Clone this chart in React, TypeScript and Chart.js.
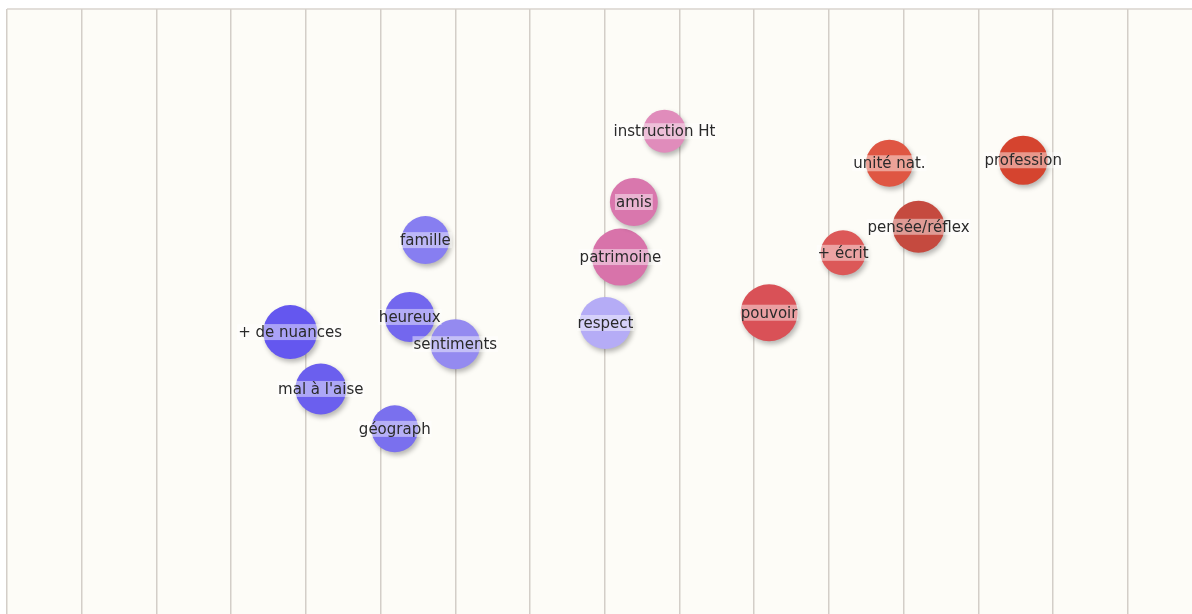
import React, { useEffect, useRef } from "react";
import { Chart, registerables } from "chart.js";

Chart.register(...registerables);

const labels = [
  "+ de nuances", "mal à l'aise", "géograph", "heureux", "sentiments", "famille",
  "respect", "patrimoine", "amis", "instruction Ht",
  "pouvoir", "+ écrit", "unité nat.", "pensée/réflex", "profession",
];
const xValues = [3.79, 4.2, 5.19, 5.39, 6.0, 5.6, 8.01, 8.21, 8.39, 8.8, 10.2, 11.19, 11.81, 12.2, 13.6];
const yValues = [46.6, 37.2, 30.6, 49.1, 44.6, 61.8, 48.1, 59.0, 68.1, 79.8, 49.8, 59.7, 74.5, 64.0, 75.0];
const radii = [27, 25.5, 23.5, 25, 25, 24, 26, 28.5, 24, 21.5, 28.5, 22.5, 23.5, 26, 24.5];
const colors = [
  "#6457ef", "#6b5fee", "#7a70ee", "#7367ee", "#948af0", "#877ef1",
  "#b5acf6", "#d873aa", "#d977ad", "#e08cbb",
  "#d95157", "#dc5858", "#df5643", "#c54a3f", "#d5442f",
];

const X_MIN = 0;
const X_MAX = 15.86;
const Y_MIN = 0;
const Y_MAX = 100;

const bgPlugin = {
  id: "bgPlugin",
  beforeDraw(chart: any) {
    const { ctx, chartArea } = chart;
    ctx.save();
    ctx.fillStyle = "#fdfcf7";
    ctx.fillRect(chartArea.left, chartArea.top, chartArea.right - chartArea.left, chartArea.bottom - chartArea.top);
    ctx.strokeStyle = "#e2ded9";
    ctx.lineWidth = 2;
    ctx.beginPath();
    ctx.moveTo(chartArea.left, chartArea.top);
    ctx.lineTo(chartArea.right, chartArea.top);
    ctx.stroke();
    ctx.restore();
  },
  beforeDatasetsDraw(chart: any) {
    const ctx = chart.ctx;
    ctx.save();
    ctx.shadowColor = "rgba(0,0,0,0.28)";
    ctx.shadowBlur = 5;
    ctx.shadowOffsetX = 2;
    ctx.shadowOffsetY = 3;
  },
  afterDatasetsDraw(chart: any) {
    const ctx = chart.ctx;
    ctx.restore();
    ctx.save();
    ctx.font = "15px 'DejaVu Sans'";
    ctx.textAlign = "center";
    ctx.textBaseline = "middle";
    const meta = chart.getDatasetMeta(0);
    meta.data.forEach((pt: any, i: number) => {
      const text = labels[i];
      const w = ctx.measureText(text).width;
      ctx.fillStyle = "rgba(255,255,255,0.45)";
      ctx.fillRect(pt.x - w / 2 - 1, pt.y - 8, w + 2, 16);
    });
    meta.data.forEach((pt: any, i: number) => {
      ctx.fillStyle = "#2a2a2a";
      ctx.fillText(labels[i], pt.x, pt.y + 1);
    });
    ctx.restore();
  },
};

export default function App() {
  const ref = useRef<HTMLCanvasElement | null>(null);
  useEffect(() => {
    if (!ref.current) return;
    const chart = new Chart(ref.current, {
      type: "bubble",
      data: {
        labels,
        datasets: [
          {
            data: xValues.map((x, i) => ({ x, y: yValues[i], r: radii[i] })),
            backgroundColor: colors,
            borderWidth: 0,
            hoverRadius: 0,
            clip: false,
          },
        ],
      },
      options: {
        animation: false,
        responsive: false,
        maintainAspectRatio: false,
        layout: { autoPadding: false, padding: { left: 7, top: 9, right: 0, bottom: 0 } },
        plugins: { legend: { display: false }, tooltip: { enabled: false } },
        scales: {
          x: {
            type: "linear",
            min: X_MIN,
            max: X_MAX,
            ticks: { display: false, stepSize: 1 },
            afterBuildTicks(scale: any) {
              scale.ticks = scale.ticks.filter((t: any) => Number.isInteger(t.value));
            },
            grid: { color: "#d3cec8", lineWidth: 1.5, drawTicks: false },
            border: { display: false },
          },
          y: {
            type: "linear",
            min: Y_MIN,
            max: Y_MAX,
            display: false,
          },
        },
      },
      plugins: [bgPlugin],
    });
    return () => chart.destroy();
  }, []);
  return (
    <div style={{ position: "absolute", left: 0, top: 0, width: 1192, height: 614 }}>
      <canvas ref={ref} width={1192} height={614} style={{ width: 1192, height: 614 }} />
    </div>
  );
}
